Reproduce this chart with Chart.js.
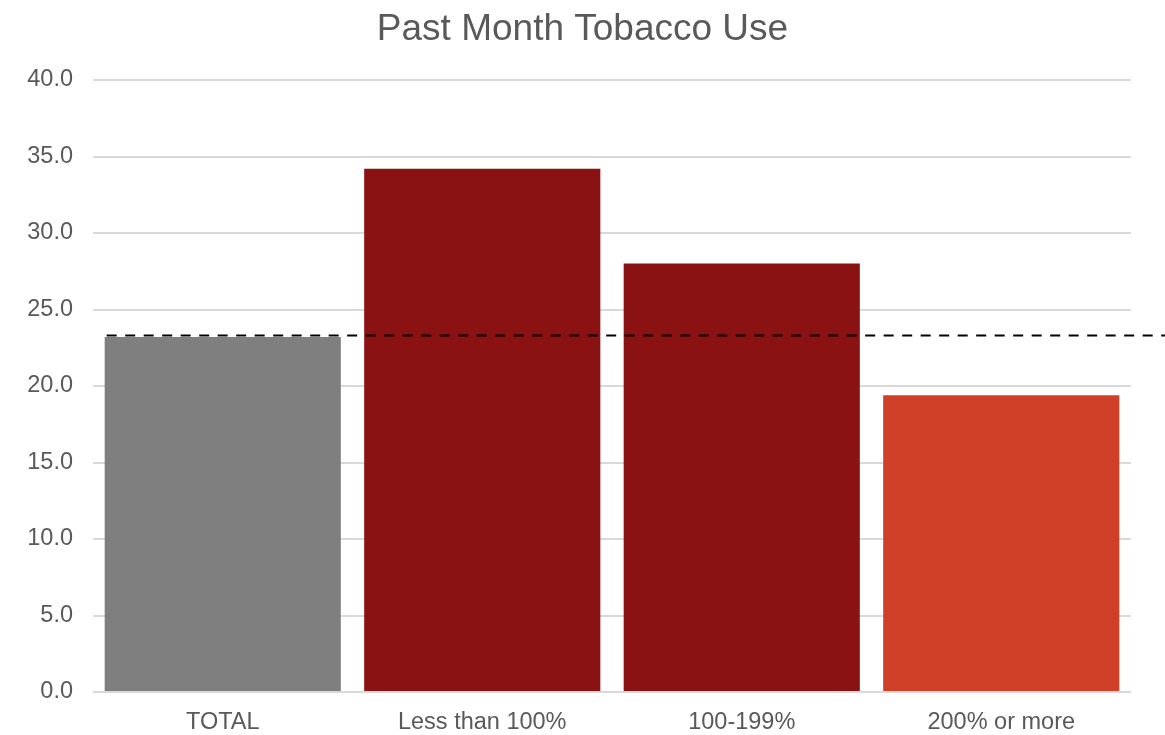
<!DOCTYPE html>
<html>
<head>
<meta charset="utf-8">
<script src="https://cdn.jsdelivr.net/npm/chart.js@4"></script>
<style>
  html, body { margin: 0; padding: 0; background: #fff; }
  #wrap { width: 1165px; height: 735px; }
</style>
</head>
<body>
<div id="wrap"><canvas id="tobaccoChart" width="1165" height="735"></canvas></div>
<script>
// Daten
const categories = ["TOTAL", "Less than 100%", "100-199%", "200% or more"];
const values = [23.2, 34.2, 28.0, 19.4];
const barColors = ["#7f7f7f", "#8b1213", "#8b1213", "#d04028"];
const referenceValue = 23.3; // gestrichelte Linie (TOTAL)

// gestrichelte Referenzlinie, läuft bis zum rechten Rand
const refLine = {
  id: "refLine",
  afterDatasetsDraw(chart) {
    const { ctx, scales } = chart;
    const y = scales.y.getPixelForValue(referenceValue);
    const bar = chart.getDatasetMeta(0).data[0];
    const x0 = bar.x - bar.width / 2 + 2;
    ctx.save();
    ctx.strokeStyle = "#000";
    ctx.lineWidth = 2;
    ctx.setLineDash([10, 8.5]);
    ctx.beginPath();
    ctx.moveTo(x0, y);
    ctx.lineTo(chart.width, y);
    ctx.stroke();
    ctx.restore();
  },
};

Chart.defaults.font.family = "'Liberation Sans', Arial, sans-serif";
Chart.defaults.color = "#595959";

new Chart(document.getElementById("tobaccoChart"), {
  type: "bar",
  data: {
    labels: categories,
    datasets: [
      {
        data: values,
        backgroundColor: barColors,
        barPercentage: 0.91,
        categoryPercentage: 1,
      },
    ],
  },
  options: {
    responsive: false,
    animation: false,
    layout: { padding: { left: 0, right: 0, top: 4, bottom: 0 } },
    plugins: {
      legend: { display: false },
      tooltip: { enabled: false },
      title: {
        display: true,
        text: "Past Month Tobacco Use",
        color: "#595959",
        font: { size: 37, weight: "normal" },
        padding: { top: 4, bottom: 27.6 },
      },
    },
    scales: {
      x: {
        grid: { display: false },
        border: { display: false },
        ticks: { font: { size: 23.5 }, color: "#595959", padding: 8 },
        afterFit: (s) => { s.height = 43; },
      },
      y: {
        min: 0,
        max: 40,
        ticks: {
          stepSize: 5,
          font: { size: 23.5 },
          color: "#595959",
          padding: 20,
          callback: (v) => v.toFixed(1),
        },
        grid: { color: "#d9d9d9", lineWidth: 2, drawTicks: false },
        border: { display: false },
        afterFit: (s) => { s.width = 93; },
      },
      // leerer Platz rechts, damit der Titel mittig über der ganzen Fläche steht
      yRight: {
        position: "right",
        min: 0,
        max: 40,
        grid: { display: false },
        border: { display: false },
        ticks: { display: false },
        afterFit: (s) => { s.width = 34; },
      },
    },
  },
  plugins: [refLine],
});
</script>
</body>
</html>
